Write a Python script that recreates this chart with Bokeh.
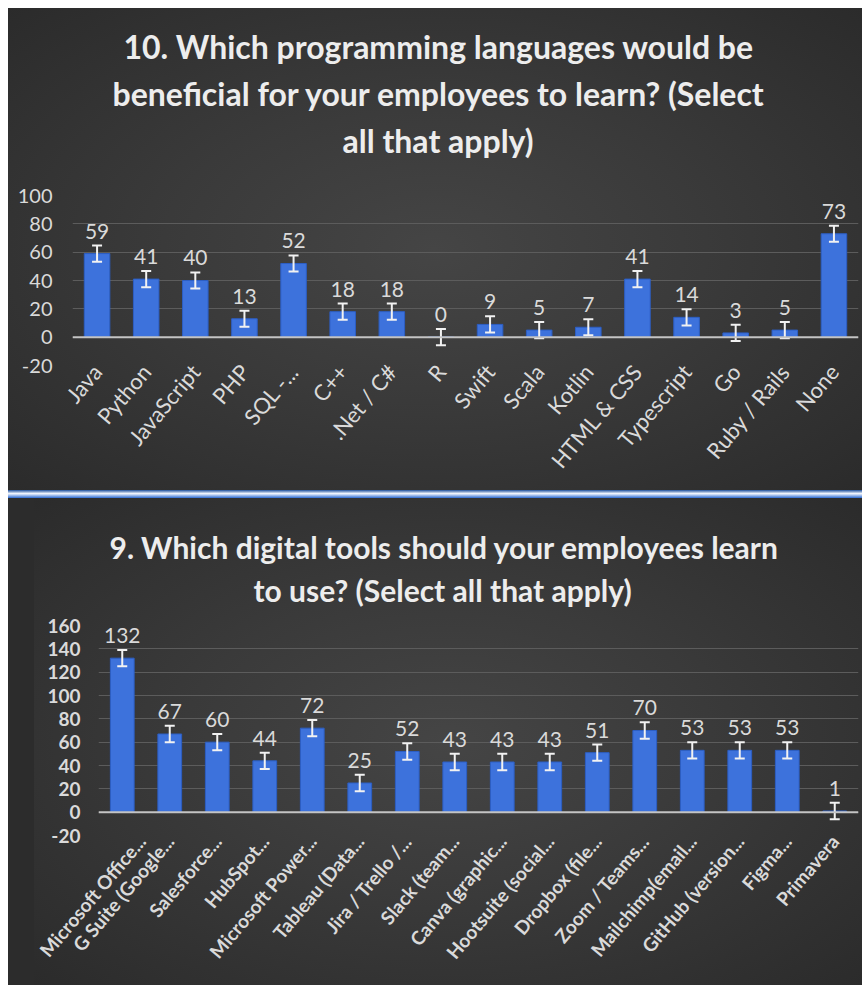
from bokeh.plotting import figure
from bokeh.models import (ColumnDataSource, Whisker, Span, Title, Div, FactorRange,
                          Range1d, FixedTicker, Spacer)
from bokeh.layouts import column, row
from bokeh.embed import file_html
from bokeh.resources import INLINE
from bokeh.core.properties import value

# ---------------- data ----------------
lang_categories = ["Java", "Python", "JavaScript", "PHP", "SQL -...", "C++", ".Net / C#", "R",
                   "Swift", "Scala", "Kotlin", "HTML & CSS", "Typescript", "Go",
                   "Ruby / Rails", "None"]
lang_counts = [59, 41, 40, 13, 52, 18, 18, 0, 9, 5, 7, 41, 14, 3, 5, 73]
lang_error = 5.7
lang_ticks = [-20, 0, 20, 40, 60, 80, 100]
lang_title = ["10. Which programming languages would be",
              "beneficial for your employees to learn? (Select",
              "all that apply)"]

tool_categories = ["Microsoft Office...", "G Suite (Google...", "Salesforce...", "HubSpot...",
                   "Microsoft Power...", "Tableau (Data...", "Jira / Trello /...", "Slack (team...",
                   "Canva (graphic...", "Hootsuite (social...", "Dropbox (file...",
                   "Zoom / Teams...", "Mailchimp(email...", "GitHub (version...", "Figma...",
                   "Primavera"]
tool_counts = [132, 67, 60, 44, 72, 25, 52, 43, 43, 43, 51, 70, 53, 53, 53, 1]
tool_error = 7.0
tool_ticks = [-20, 0, 20, 40, 60, 80, 100, 120, 140, 160]
tool_title = ["9. Which digital tools should your employees learn",
              "to use? (Select all that apply)"]

BG_GRADIENT = "radial-gradient(ellipse at 50% 50%, #454545 0%, #3a3a3a 45%, #2b2b2b 100%)"
BAR = "#3d72dc"
TXT = "#dadada"
FONT = "Lato"


def make_chart(cats, vals, err, ticks, titles, title_offsets, title_standoffs,
               width, height, border_left, border_top, border_bottom, bar_width,
               title_size, spacer_size, ylab_size, xlab_size, label_bold, ylab_standoff):
    src = ColumnDataSource(dict(
        x=cats, top=vals,
        upper=[v + err for v in vals],
        lower=[v - err for v in vals],
        label=[str(v) for v in vals],
    ))
    p = figure(x_range=FactorRange(factors=cats), y_range=Range1d(ticks[0], ticks[-1]),
               width=width, height=height, title=None, toolbar_location=None,
               output_backend="svg", min_border_left=border_left, min_border_right=4,
               min_border_top=border_top, min_border_bottom=border_bottom,
               styles={"background": BG_GRADIENT})
    p.background_fill_alpha = 0
    p.border_fill_alpha = 0
    p.outline_line_color = None

    p.add_layout(Title(text=" ", text_font_size=spacer_size, standoff=0), "above")
    for t, off, so in reversed(list(zip(titles, title_offsets, title_standoffs))):
        p.add_layout(Title(text=t, align="left", offset=off, text_font=FONT,
                           text_font_size=title_size, text_font_style="bold",
                           text_color="#ededed", standoff=so), "above")

    p.vbar(x="x", top="top", width=bar_width, source=src, fill_color=BAR,
           line_color="#2c5ec4", line_width=1)
    w = Whisker(source=src, base="x", upper="upper", lower="lower",
                line_color="#f2f2f2", line_width=2, level="annotation")
    for h in (w.upper_head, w.lower_head):
        h.size = 10
        h.line_color = "#f2f2f2"
        h.line_width = 2
    p.add_layout(w)
    p.add_layout(Span(location=0, dimension="width", line_color="#c4c4c4", line_width=2))

    p.text(x="x", y="upper", text="label", source=src, text_align="center",
           text_baseline="bottom", y_offset=-7, text_font=value(FONT),
           text_font_size="21px", text_color=TXT)

    p.xgrid.grid_line_color = None
    p.ygrid.ticker = FixedTicker(ticks=ticks)
    p.ygrid.grid_line_color = "#5c5c5c"
    p.ygrid.grid_line_width = 1

    style = "bold" if label_bold else "normal"
    for ax in (p.xaxis[0], p.yaxis[0]):
        ax.axis_line_color = None
        ax.major_tick_line_color = None
        ax.minor_tick_line_color = None
        ax.major_tick_out = 0
        ax.major_tick_in = 0
        ax.minor_tick_out = 0
        ax.minor_tick_in = 0
        ax.major_label_text_color = TXT
        ax.major_label_text_font = FONT
        ax.major_label_text_font_style = style

    p.yaxis.ticker = FixedTicker(ticks=ticks)
    p.yaxis.major_label_text_font_size = ylab_size
    p.yaxis.major_label_standoff = ylab_standoff
    p.yaxis.major_label_overrides = {t: str(t) for t in ticks if t < 0}

    p.xaxis.major_label_text_font_size = xlab_size
    p.xaxis.major_label_orientation = 0.87
    p.xaxis.major_label_standoff = 2
    return p


top = make_chart(lang_categories, lang_counts, lang_error, lang_ticks, lang_title,
                 [51, 40, 270], [6, 6, 6],
                 854, 482, 64, 187, 125, 0.52, "32px", "28px", "20px", "22px", False, 20)
divider = Div(text="", width=854, height=8, margin=0,
              styles={"background": "linear-gradient(#1d4f9c, #f4f8ff 45%, #2c6ad0)"})
bottom = make_chart(tool_categories, tool_counts, tool_error, tool_ticks, tool_title,
                    [11, 155], [7, 3],
                    828, 487, 64, 127, 150, 0.5, "30px", "12px", "19px", "19px", True, 18)
bottom_pad = Div(text="", width=26, height=487, margin=0,
                 styles={"background": "#2c2c2c"})

layout = column(Spacer(height=8, margin=0),
                row(Spacer(width=8, margin=0),
                    column(top, divider, row(bottom_pad, bottom, spacing=0), spacing=0),
                    spacing=0),
                spacing=0)
open("out.html", "w").write(file_html(layout, INLINE))
